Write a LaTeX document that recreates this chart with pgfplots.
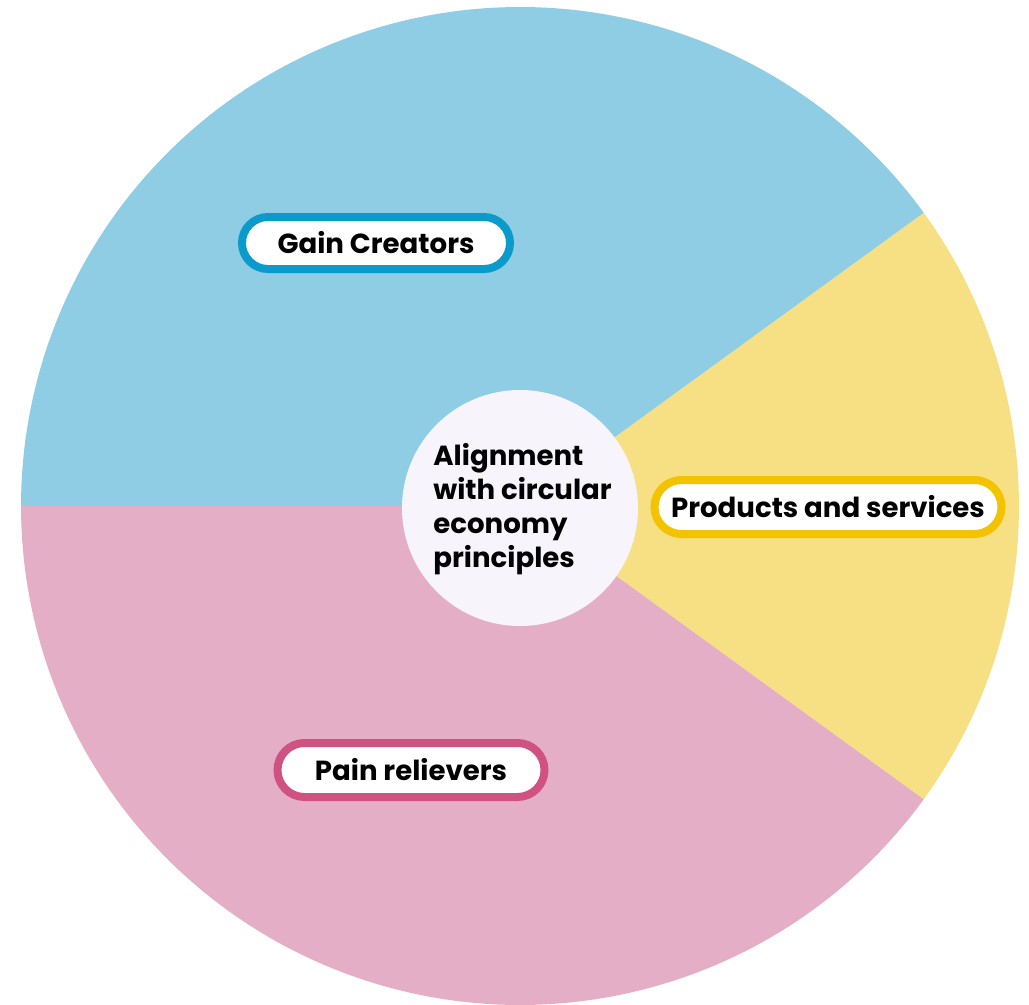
\documentclass[border=0pt]{standalone}
\usepackage{pgfplots}
\pgfplotsset{compat=1.18}
\usepackage{fontspec}
\setmainfont{Poppins}
\definecolor{pieblue}{RGB}{142,205,228}
\definecolor{pieyellow}{RGB}{247,224,132}
\definecolor{piepink}{RGB}{228,175,198}
\definecolor{centerc}{RGB}{247,245,251}
\definecolor{bblue}{RGB}{10,155,203}
\definecolor{byellow}{RGB}{243,195,0}
\definecolor{bpink}{RGB}{207,82,131}
% shares (percent)
\def\vProducts{20}
\def\vGain{40}
\def\vPain{40}
\begin{document}
\begin{tikzpicture}
\pgfmathsetmacro{\aA}{-\vProducts*3.6/2}
\pgfmathsetmacro{\aB}{\aA+\vProducts*3.6}
\pgfmathsetmacro{\aC}{\aB+\vGain*3.6}
\pgfmathsetmacro{\aD}{\aC+\vPain*3.6}
\begin{axis}[
  hide axis, scale only axis,
  x=0.5pt, y=0.5pt,
  xmin=-520, xmax=509, ymin=-498, ymax=506,
  clip=false,
]
\path (axis cs:-520,-498) rectangle (axis cs:509,506);
\addplot[draw=none, fill=pieyellow, domain=\aA:\aB, samples=80, variable=\t]
  ({499*cos(t)},{499*sin(t)}) -- (axis cs:0,0) -- cycle;
\addplot[draw=none, fill=pieblue, domain=\aB:\aC, samples=150, variable=\t]
  ({499*cos(t)},{499*sin(t)}) -- (axis cs:0,0) -- cycle;
\addplot[draw=none, fill=piepink, domain=\aC:\aD, samples=150, variable=\t]
  ({499*cos(t)},{499*sin(t)}) -- (axis cs:0,0) -- cycle;
\fill[centerc] (axis cs:0,-2) circle[radius=59pt];
\node[anchor=west, align=left, inner sep=0pt, font=\fontsize{13.8}{16.9}\selectfont\bfseries]
  at (axis cs:-87,-3) {Alignment\\with circular\\economy\\principles};
\node[draw=bblue, fill=white, line width=4pt, rounded corners=13pt,
  minimum width=134pt, minimum height=26pt, inner sep=0pt,
  font=\fontsize{13.8}{16}\selectfont\bfseries] at (axis cs:-144,263) {Gain Creators};
\node[draw=byellow, fill=white, line width=4pt, rounded corners=13.5pt,
  minimum width=173.5pt, minimum height=27pt, inner sep=0pt,
  font=\fontsize{13.8}{16}\selectfont\bfseries] at (axis cs:308,-1) {Products and services};
\node[draw=bpink, fill=white, line width=4pt, rounded corners=13.5pt,
  minimum width=133.5pt, minimum height=27pt, inner sep=0pt,
  font=\fontsize{13.8}{16}\selectfont\bfseries] at (axis cs:-109,-264) {Pain relievers};
\end{axis}
\end{tikzpicture}
\end{document}
